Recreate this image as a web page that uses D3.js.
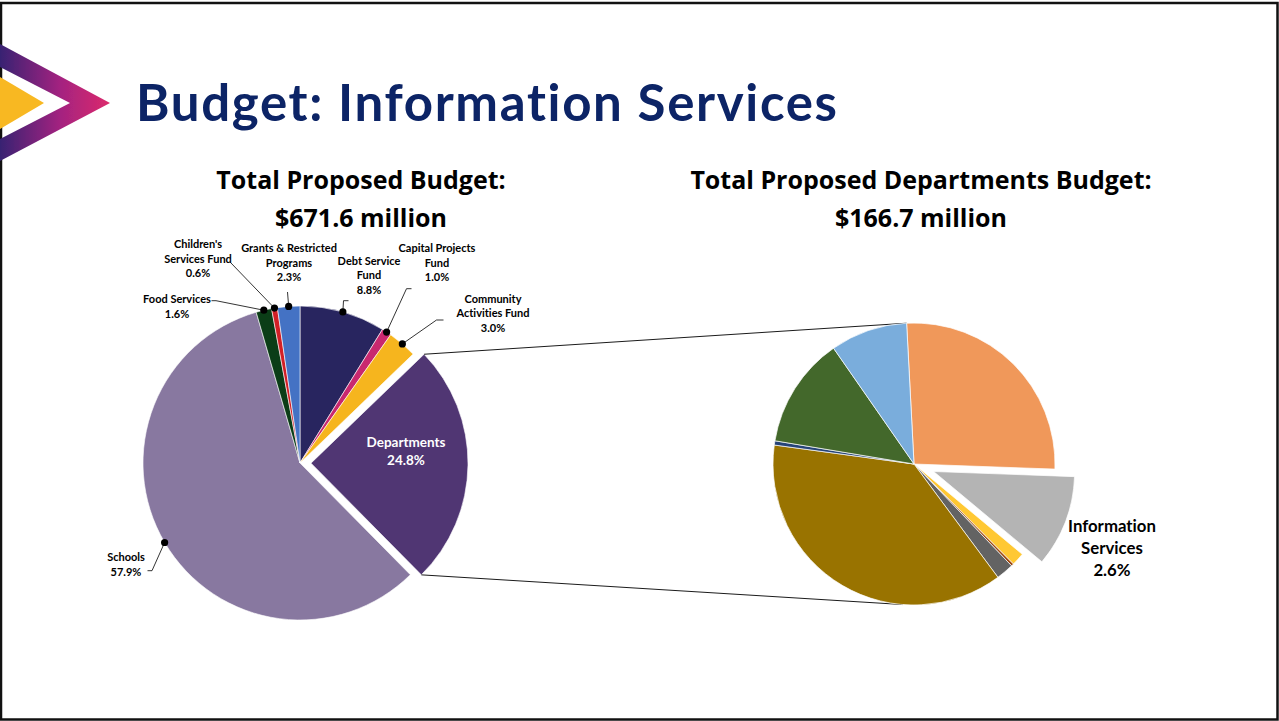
<!DOCTYPE html>
<html>
<head>
<meta charset="utf-8">
<script src="https://cdn.jsdelivr.net/npm/d3@7"></script>
<style>
  html, body { margin: 0; padding: 0; background: #fff; }
  svg { display: block; }
  text { font-variant-ligatures: none; }
</style>
</head>
<body>
<svg id="chart" width="1279" height="721"></svg>
<script>
// ---- Data -----------------------------------------------------------------
// Total proposed budget, share of $671.6M (clockwise from 12 o'clock)
const budgetCategories = [
  "Debt Service Fund", "Capital Projects Fund", "Community Activities Fund",
  "Departments", "Schools", "Food Services", "Children's Services Fund",
  "Grants & Restricted Programs"
];
const budgetShares = [8.8, 1.0, 3.0, 24.8, 57.9, 1.6, 0.6, 2.3];
const budgetLabelLines = [
  ["Debt Service", "Fund"], ["Capital Projects", "Fund"], ["Community", "Activities Fund"],
  ["Departments"], ["Schools"], ["Food Services"], ["Children's", "Services Fund"],
  ["Grants & Restricted", "Programs"]
];

// Departments budget, each department's share of the total budget (sums to 24.8)
const deptCategories = [
  "Department A", "Information Services", "Department B", "Department C",
  "Department D", "Department E", "Department F", "Department G", "Department H"
];
const deptShares = [6.55, 2.6, 0.37, 0.07, 0.5, 9.25, 0.12, 3.15, 2.19];

const titleText = "Budget: Information Services";
const leftHeading = ["Total Proposed Budget:", "$671.6 million"];
const rightHeading = ["Total Proposed Departments Budget:", "$166.7 million"];

// ---- Styles ---------------------------------------------------------------
const budgetColors = ["#28255f", "#c9286f", "#f6b51e", "#503673", "#8878a0", "#0b3d17", "#d11f26", "#4472c4"];
const deptColors = ["#f0985a", "#b4b4b4", "#ffc833", "#9e480e", "#636363", "#997300", "#264478", "#43682b", "#7aaddc"];

const svg = d3.select("#chart");
const fmtPct = v => d3.format(".1f")(v) + "%";

// ---- Frame ----------------------------------------------------------------
svg.append("rect").attr("x", 1).attr("y", 3).attr("width", 1276.5).attr("height", 716.5)
  .attr("fill", "none").attr("stroke", "#111").attr("stroke-width", 2.5);

// ---- Logo chevron -----------------------------------------------------------
const defs = svg.append("defs");
const grad = defs.append("linearGradient").attr("id", "chev").attr("x1", "0").attr("x2", "1").attr("y1", "0").attr("y2", "0");
grad.append("stop").attr("offset", "0%").attr("stop-color", "#382372");
grad.append("stop").attr("offset", "55%").attr("stop-color", "#a42380");
grad.append("stop").attr("offset", "100%").attr("stop-color", "#dc2a6c");
defs.append("filter").attr("id", "soft").append("feGaussianBlur").attr("stdDeviation", 0.7);

const logo = svg.append("g").attr("filter", "url(#soft)");
logo.append("path")
  .attr("d", "M0,44 L110,103 L0,161 Z M0,67 L70,103 L0,139 Z")
  .attr("fill-rule", "evenodd").attr("fill", "url(#chev)");
logo.append("path").attr("d", "M0,77 L44,103 L0,129 Z").attr("fill", "#f8b822");

// ---- Titles -----------------------------------------------------------------
svg.append("text").attr("x", 136).attr("y", 121)
  .attr("font-family", "Lato, 'Open Sans', sans-serif").attr("font-weight", 700)
  .attr("font-size", 51).attr("fill", "#0c2466")
  .attr("textLength", 701).attr("lengthAdjust", "spacing")
  .text(titleText);

function heading(lines, cx) {
  const t = svg.append("text").attr("text-anchor", "middle")
    .attr("font-family", "'Open Sans', 'Noto Sans', sans-serif").attr("font-weight", 700)
    .attr("font-size", 25).attr("fill", "#000");
  lines.forEach((s, i) => t.append("tspan").attr("x", cx).attr("y", 189 + i * 38).text(s));
}
heading(leftHeading, 361);
heading(rightHeading, 921);

// ---- Left pie: total budget -------------------------------------------------
const L = { cx: 300, cy: 463, r: 157, explode: 11 };
const explodedIndex = budgetCategories.indexOf("Departments");

const pieL = d3.pie().sort(null).value(d => d)(budgetShares);
const arcL = d3.arc().innerRadius(0).outerRadius(L.r);
const edgeL = d3.arc().innerRadius(L.r).outerRadius(L.r);

const offsetOf = (a, dist) => {
  const m = (a.startAngle + a.endAngle) / 2;
  return [Math.sin(m) * dist, -Math.cos(m) * dist];
};

const gL = svg.append("g").attr("transform", `translate(${L.cx},${L.cy})`);
gL.selectAll("path").data(pieL).join("path")
  .attr("d", arcL)
  .attr("transform", (d, i) => {
    if (i !== explodedIndex) return null;
    const [dx, dy] = offsetOf(d, L.explode);
    return `translate(${dx},${dy})`;
  })
  .attr("fill", (d, i) => budgetColors[i])
  .attr("stroke", "#ffffff").attr("stroke-width", 0.6);

// Departments label inside its slice
{
  const t = gL.append("text").attr("text-anchor", "middle")
    .attr("font-family", "Lato, sans-serif").attr("font-weight", 700)
    .attr("font-size", 13.5).attr("fill", "#fff");
  t.append("tspan").attr("x", 106).attr("y", -16).text(budgetLabelLines[explodedIndex][0]);
  t.append("tspan").attr("x", 106).attr("y", 2).text(fmtPct(budgetShares[explodedIndex]));
}

// Outside labels: text anchor (centre x, first baseline) and leader elbow, page coordinates
const labelLayout = {
  "Debt Service Fund":            { x: 369, y: 264.5, elbow: [[348.5, 300.7], [343.5, 300.7]] },
  "Capital Projects Fund":        { x: 437, y: 252,   elbow: [[411.5, 288.7], [406.5, 288.7]] },
  "Community Activities Fund":    { x: 493, y: 302.5, elbow: [[443.5, 320], [436.5, 320]] },
  "Schools":                      { x: 126, y: 561,   elbow: [[147.5, 570.7], [152, 570.7]] },
  "Food Services":                { x: 177, y: 303,   elbow: [[211.5, 300.7], [216, 300.7]] },
  "Children's Services Fund":     { x: 198, y: 248,   elbow: [[230.5, 262.5]] },
  "Grants & Restricted Programs": { x: 289, y: 252,   elbow: [[287.5, 292]] }
};
const lineH = 14.6;

const gLab = svg.append("g");
pieL.forEach((d, i) => {
  const name = budgetCategories[i];
  const lay = labelLayout[name];
  if (!lay) return;
  const [ex, ey] = edgeL.centroid(d);
  const px = L.cx + ex, py = L.cy + ey;
  const pts = lay.elbow.concat([[px, py]]);
  gLab.append("path").attr("d", d3.line()(pts))
    .attr("fill", "none").attr("stroke", "#000").attr("stroke-width", 0.8);
  gLab.append("circle").attr("cx", px).attr("cy", py).attr("r", 3.6).attr("fill", "#000");
  const t = gLab.append("text").attr("text-anchor", "middle")
    .attr("font-family", "Lato, sans-serif").attr("font-weight", 700)
    .attr("font-size", 11).attr("fill", "#000");
  const lines = budgetLabelLines[i].concat([fmtPct(budgetShares[i])]);
  lines.forEach((s, k) => t.append("tspan").attr("x", lay.x).attr("y", lay.y + k * lineH).text(s));
});

// ---- Right pie: departments --------------------------------------------------
const R = { cx: 914, cy: 464, r: 141, explode: 21, start: -3 * Math.PI / 180 };
const highlightIndex = deptCategories.indexOf("Information Services");

// Connector lines from the exploded Departments slice to the departments pie
{
  const d = pieL[explodedIndex];
  const [ox, oy] = offsetOf(d, L.explode);
  const corner = a => [L.cx + ox + Math.sin(a) * L.r, L.cy + oy - Math.cos(a) * L.r];
  const onRight = a => [R.cx + Math.sin(a) * R.r, R.cy - Math.cos(a) * R.r];
  const topA = R.start, botA = 184.5 * Math.PI / 180;
  svg.append("path").attr("d", d3.line()([corner(d.startAngle), onRight(topA)]))
    .attr("stroke", "#000").attr("stroke-width", 0.9).attr("fill", "none");
  svg.append("path").attr("d", d3.line()([corner(d.endAngle), onRight(botA)]))
    .attr("stroke", "#000").attr("stroke-width", 0.9).attr("fill", "none");
}

const pieR = d3.pie().sort(null).value(d => d)
  .startAngle(R.start).endAngle(R.start + 2 * Math.PI)(deptShares);
const arcR = d3.arc().innerRadius(0).outerRadius(R.r);

const gR = svg.append("g").attr("transform", `translate(${R.cx},${R.cy})`);
gR.selectAll("path").data(pieR).join("path")
  .attr("d", arcR)
  .attr("transform", (d, i) => {
    if (i !== highlightIndex) return null;
    const [dx, dy] = offsetOf(d, R.explode);
    return `translate(${dx},${dy})`;
  })
  .attr("fill", (d, i) => deptColors[i])
  .attr("stroke", "#ffffff").attr("stroke-width", 0.7);

// Information Services label
{
  const share = deptShares[highlightIndex];
  const t = svg.append("text").attr("text-anchor", "middle")
    .attr("font-family", "Lato, sans-serif").attr("font-weight", 700)
    .attr("font-size", 16.8).attr("fill", "#000");
  ["Information", "Services", fmtPct(share)].forEach((s, k) =>
    t.append("tspan").attr("x", 1112).attr("y", 531.5 + k * 22).text(s));
}
</script>
</body>
</html>
